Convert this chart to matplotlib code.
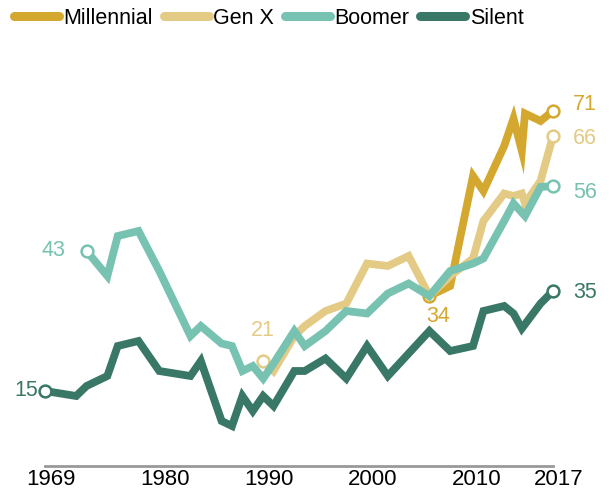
import matplotlib
matplotlib.use("Agg")
import matplotlib.pyplot as plt
from matplotlib.lines import Line2D
from matplotlib.transforms import ScaledTranslation

plt.rcParams['font.family'] = ['Liberation Sans', 'DejaVu Sans']

# Share by generation (GSS years, then Pew survey dates)
silent_years = [1969, 1972, 1973, 1975, 1976, 1978, 1980, 1983, 1984, 1986, 1987,
                1988, 1989, 1990, 1991, 1993, 1994, 1996, 1998, 2000, 2002, 2004,
                2006, 2008, 2010.2, 2011.2, 2013.2, 2014.1, 2014.9, 2016.7, 2017.9]
silent = [15, 14, 16, 18, 24, 25, 19, 18, 21, 9, 8,
          14, 11, 14, 12, 19, 19, 21.5, 17.5, 24, 18, 22.5,
          27, 23, 24, 31, 32, 30.5, 27.5, 32.5, 35]

boomer_years = [1973, 1975, 1976, 1978, 1980, 1983, 1984, 1986, 1987, 1988, 1989,
                1990, 1991, 1993, 1994, 1996, 1998, 2000, 2002, 2004, 2006, 2008,
                2010.2, 2011.2, 2013.2, 2014.1, 2015.2, 2016.7, 2017.9]
boomer = [43, 38, 46, 47, 39, 26, 28, 24.5, 24, 19, 20,
          17.5, 20.5, 27, 24, 27, 31, 30.5, 34.5, 36.5, 34, 39,
          40.5, 41.5, 49, 52.5, 50, 55.8, 56]

genx_years = [1990, 1991, 1993, 1994, 1996, 1998, 2000, 2002, 2004, 2006, 2008,
              2010.2, 2011.2, 2013.2, 2014.1, 2014.9, 2015.2, 2016.7, 2017.9]
genx = [21, 19, 26, 28, 31, 32.5, 40.5, 40, 42, 34, 38,
        41.5, 49, 54.5, 54, 54.5, 52.5, 57, 66]

mill_years = [2006, 2008, 2010.2, 2011.2, 2013.2, 2014.1, 2014.9, 2015.2, 2016.7, 2017.9]
mill = [34, 36, 58, 55, 64, 69.5, 63, 70.5, 69, 71]

tick_pos = [1969, 1980, 1990, 2000, 2010, 2017.9]
tick_lab = ['1969', '1980', '1990', '2000', '2010', '2017']

c_mill = '#d4a82f'
c_genx = '#e3ca85'
c_boom = '#77c2b1'
c_sil = '#397767'

fig = plt.figure(figsize=(6.09, 4.92), dpi=100)
ax = fig.add_axes([45/609, 1 - 466/492, 508/609, 400/492])

series = [
    (mill_years, mill, c_mill, 'Millennial', 1),
    (genx_years, genx, c_genx, 'Gen X', 2),
    (boomer_years, boomer, c_boom, 'Boomer', 3),
    (silent_years, silent, c_sil, 'Silent', 4),
]
lw = 5.6
for xs, ys, col, name, z in series:
    ax.plot(xs, ys, color=col, lw=lw, solid_joinstyle='miter',
            solid_capstyle='butt', zorder=z, clip_on=False)
    # hollow circles at both ends
    ax.plot([xs[0], xs[-1]], [ys[0], ys[-1]], 'o', ms=8.5, mfc='white',
            mec=col, mew=1.8, zorder=z + 0.5, clip_on=False)

def lab(x, y, txt, col, dx, dy, ha='left'):
    ax.annotate(txt, (x, y), xytext=(dx * 0.72, dy * 0.72), textcoords='offset points',
                ha=ha, va='center', color=col, fontsize=15.5, annotation_clip=False)

# start labels
lab(silent_years[0], silent[0], '15', c_sil, -7, 0, 'right')
lab(boomer_years[0], boomer[0], '43', c_boom, -21, 0, 'right')
lab(genx_years[0], genx[0], '21', c_genx, 0, 30, 'center')
lab(mill_years[0], mill[0], '34', c_mill, 9, -21, 'center')
# end labels
lab(mill_years[-1], mill[-1], '71', c_mill, 20, 6)
lab(genx_years[-1], genx[-1], '66', c_genx, 20, -2)
lab(boomer_years[-1], boomer[-1], '56', c_boom, 20, -6)
lab(silent_years[-1], silent[-1], '35', c_sil, 20, -1)

ax.set_xlim(1969, 2017.9)
ax.set_ylim(0, 80)
for s in ['top', 'right', 'left']:
    ax.spines[s].set_visible(False)
ax.spines['bottom'].set_color('#999999')
ax.spines['bottom'].set_linewidth(2)
ax.set_yticks([])
ax.set_xticks(tick_pos)
ax.set_xticklabels(tick_lab, fontsize=16)
ax.tick_params(axis='x', length=0, pad=2.5)
shift = ScaledTranslation(6 / 100, 0, fig.dpi_scale_trans)
for t in ax.get_xticklabels():
    t.set_transform(t.get_transform() + shift)

handles = [Line2D([], [], color=col, lw=6.5, solid_capstyle='round')
           for _, _, col, _, _ in series]
fig.legend(handles, [s[3] for s in series], loc='upper left',
           bbox_to_anchor=(14/609, 1 - 8/492), ncol=4, frameon=False,
           fontsize=15.5, handlelength=2.1, handletextpad=0.2,
           columnspacing=0.5, borderpad=0, borderaxespad=0)

fig.savefig('out.png', dpi=100)
